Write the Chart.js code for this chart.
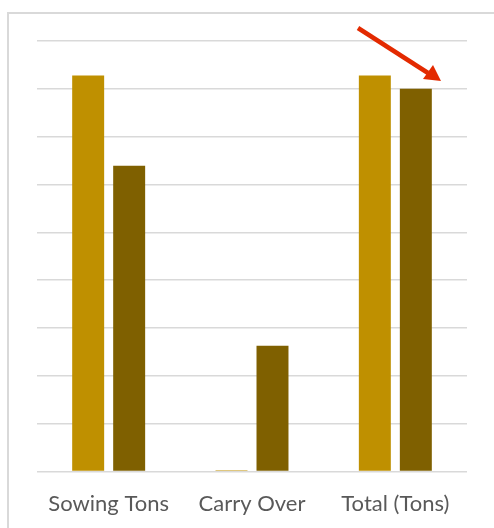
<!DOCTYPE html>
<html>
<head>
<meta charset="utf-8">
<script src="https://cdn.jsdelivr.net/npm/chart.js@4/dist/chart.umd.min.js"></script>
<style>
  html, body { margin: 0; padding: 0; background: #fff; }
  #wrap { position: relative; width: 494px; height: 528px; overflow: hidden; }
  #frame { position: absolute; left: 7px; top: 12px; width: 600px; height: 600px; border: 2px solid #d9d9d9; box-sizing: border-box; }
  #chart { position: absolute; left: 0; top: 0; }
  #arrow { position: absolute; left: 0; top: 0; pointer-events: none; }
</style>
</head>
<body>
<div id="wrap">
  <div id="frame"></div>
  <canvas id="chart" width="494" height="528"></canvas>
  <svg id="arrow" width="494" height="528">
    <line x1="358" y1="28" x2="428" y2="73" stroke="#e32a00" stroke-width="4.5"/>
    <polygon points="441,81 423,79 433,65" fill="#e32a00"/>
  </svg>
</div>
<script>
const categories = ['Sowing Tons', 'Carry Over', 'Total (Tons)'];
const firstValues = [8.28, 0.03, 8.28];
const secondValues = [6.39, 2.63, 8.0];
const yMax = 9;

new Chart(document.getElementById('chart').getContext('2d'), {
    type: 'bar',
    data: {
        labels: categories,
        datasets: [{
            data: firstValues,
            backgroundColor: '#bf9000'
        }, {
            data: secondValues,
            backgroundColor: '#7f6000'
        }]
    },
    options: {
        responsive: false,
        animation: false,
        layout: { padding: { left: 37, right: 27, top: 41, bottom: 0 } },
        categoryPercentage: 0.572,
        barPercentage: 0.78,
        plugins: { legend: { display: false }, tooltip: { enabled: false } },
        scales: {
            x: {
                grid: { display: false },
                border: { display: false },
                ticks: { color: '#595959', font: { family: 'Lato', size: 22 }, padding: 11 }
            },
            y: {
                min: 0, max: yMax,
                ticks: { display: false, stepSize: 1 },
                grid: { color: '#d9d9d9', lineWidth: 1.5, drawTicks: false },
                border: { display: false }
            }
        }
    }
});
</script>
</body>
</html>
